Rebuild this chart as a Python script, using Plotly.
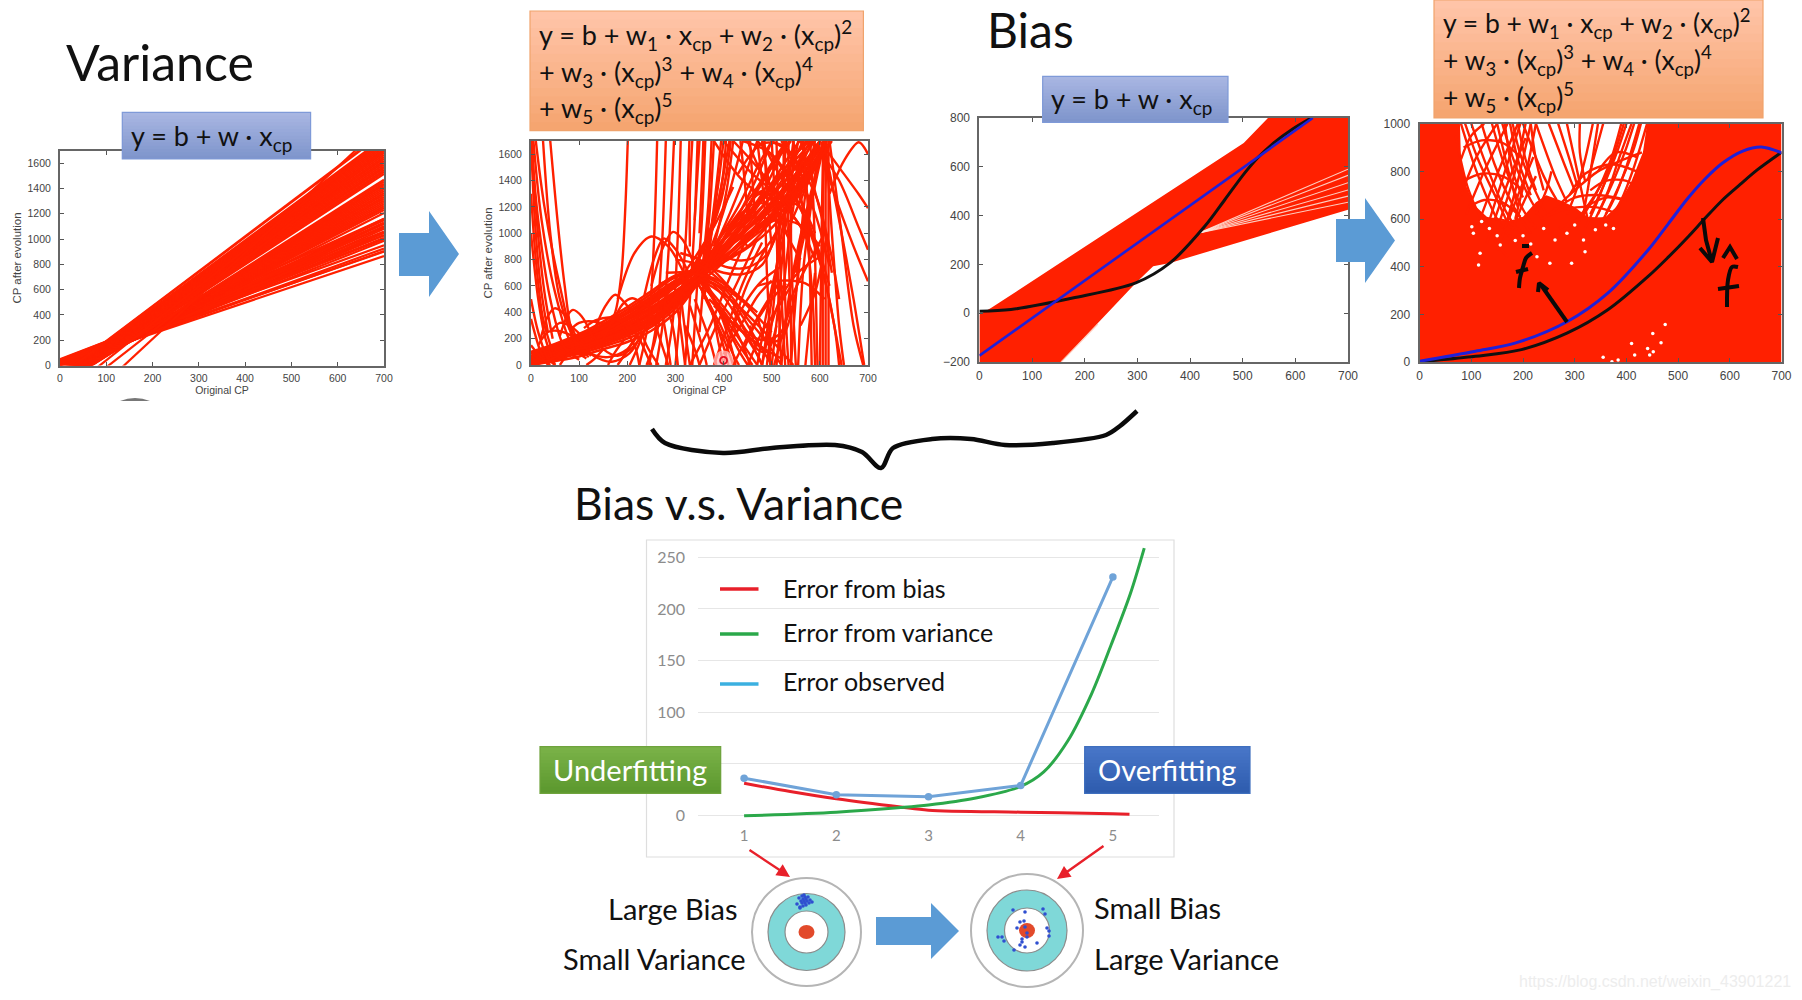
import plotly.graph_objects as go

W, H = 1802, 1000
RED = "#FF2000"
TEXT_FONT = "Lato"
TICK_FONT = "Liberation Sans"

# ---- panel A: straight fits, value at x=0 and at x=700
A_X = [0, 700]
A_Y0 = [7, 2, -5, -25, -32, -40, -45, -55, -61, -68, -75, -80,
        50, 40, 45, 35, 25, 15, 0, 30, 10, 0, -20, -40, 20,
        -92, -97, -101, -105, -109, -113, -116, -120, -124, -127, -130, -134, -138, -142, -147, -152, -155, -159,
        -158, -155, -152, -148, -145, -142, -138, -134, -131, -128, -125, -122, -119, -115, -110, -106, -102, -98, -94, -91,
        -85, -82, -250, -300, -470]
A_Y700 = [865, 905, 925, 985, 1010, 1030, 1050, 1080, 1100, 1120, 1150, 1160,
          1030, 1000, 1060, 1090, 1120, 1150, 1160, 950, 1000, 1050, 1100, 1130, 900,
          1205, 1230, 1245, 1260, 1275, 1290, 1305, 1320, 1335, 1350, 1365, 1380, 1395, 1410, 1425, 1440, 1455, 1470,
          1515, 1530, 1545, 1560, 1575, 1590, 1605, 1620, 1635, 1650, 1665, 1680, 1695, 1710, 1725, 1740, 1755, 1770, 1785, 1800,
          1840, 1848, 1790, 1700, 1910]

# ---- panel B: degree 5 fits
B_BAND_X = [0, 50, 100, 150, 200, 250, 300, 350, 400, 450, 500, 550, 600]
B_BAND_Y = [
    [0, 60, 140, 210, 290, 390, 510, 660, 820, 960, 1120, 1350, 1650],
    [10, 80, 150, 230, 320, 430, 560, 700, 860, 1030, 1230, 1450, 1700],
    [20, 90, 170, 250, 340, 440, 560, 680, 780, 890, 1040, 1260, 1600],
    [30, 100, 180, 260, 350, 460, 600, 750, 910, 1090, 1280, 1500, 1760],
    [40, 110, 190, 270, 370, 490, 620, 760, 900, 1040, 1200, 1420, 1680],
    [50, 130, 210, 290, 390, 500, 630, 770, 960, 1150, 1360, 1600, 1800],
    [0, 50, 120, 190, 270, 360, 480, 640, 840, 1040, 1240, 1450, 1650],
    [15, 70, 130, 200, 280, 380, 500, 660, 880, 1120, 1340, 1560, 1750],
    [35, 85, 145, 215, 300, 400, 530, 690, 880, 1100, 1380, 1660, 1900],
    [60, 120, 195, 280, 370, 470, 590, 730, 870, 1000, 1140, 1330, 1620],
    [5, 40, 100, 170, 260, 350, 470, 620, 780, 940, 1090, 1290, 1600],
    [25, 120, 200, 300, 400, 520, 640, 720, 800, 900, 1100, 1400, 1700],
]
B_LOW_X = [0, 50, 100, 150, 200, 250, 300, 350]
B_LOW_Y = [
    [0, 30, 65, 120, 175, 260, 400, 640],
    [5, 45, 85, 140, 200, 290, 430, 650],
    [10, 55, 100, 155, 220, 310, 450, 660],
    [20, 65, 110, 170, 235, 325, 470, 670],
    [30, 75, 120, 180, 250, 340, 480, 680],
    [40, 90, 135, 195, 265, 355, 500, 690],
    [25, 100, 160, 225, 305, 405, 540, 695],
    [45, 115, 175, 240, 325, 420, 545, 700],
    [55, 125, 185, 255, 360, 475, 610, 710],
    [70, 140, 205, 285, 400, 510, 640, 720],
    [85, 150, 220, 310, 420, 540, 670, 730],
    [100, 160, 235, 330, 440, 560, 680, 700],
]
B_CURVES = [
    [(40, 1700), (55, 1100), (70, 600), (85, 250), (110, 60)],
    [(0, 1700), (15, 1100), (40, 500), (70, 130), (100, 40)],
    [(5, 1700), (22, 1100), (50, 550), (85, 150), (115, 50)],
    [(10, 1700), (28, 1200), (60, 600), (90, 180), (120, 60)],
    [(25, 1700), (40, 1000), (60, 500), (90, 200), (125, 70)],
    [(0, 1700), (8, 1100), (20, 600), (35, 250)],
    [(2, 1700), (12, 1100), (28, 550), (45, 200)],
    [(0, 1300), (10, 800), (25, 350), (45, 100)],
    [(0, 500), (15, 250), (35, 50), (50, 0)],
    [(0, 350), (20, 100), (35, 0)],
    [(0, 1000), (15, 500), (30, 200), (50, 0)],
    [(0, 150), (20, 60), (40, 0)],
    [(0, 100), (25, 30), (50, 60)],
    [(201, 1700), (196, 1200), (188, 700), (175, 400), (150, 200)],
    [(180, 500), (215, 850), (250, 975), (285, 900), (320, 680)],
    [(250, 600), (275, 900), (295, 1010), (315, 950), (340, 750)],
    [(235, 520), (255, 800), (276, 960), (300, 880), (330, 680)],
    [(130, 250), (155, 450), (175, 533), (200, 450), (225, 330)],
    [(20, 200), (35, 370), (49, 430), (70, 380), (95, 200)],
    [(60, 220), (75, 370), (87, 418), (105, 370), (130, 200)],
    [(170, 320), (190, 460), (210, 507), (235, 460), (260, 400)],
    [(15, 150), (35, 250), (55, 260), (80, 230), (100, 180)],
    [(40, 250), (60, 320), (80, 300), (100, 240)],
    [(80, 260), (100, 320), (130, 330), (160, 300)],
    [(110, 280), (135, 340), (165, 360), (190, 320)],
    [(100, 180), (130, 70), (168, 25), (205, 90), (230, 240)],
    [(90, 160), (120, 90), (160, 60), (200, 120), (225, 250)],
    [(130, 220), (150, 120), (180, 70), (210, 130), (235, 260)],
    [(60, 0), (80, 90), (110, 130)],
    [(115, 0), (130, 40), (150, 120)],
    [(160, 0), (175, 100), (195, 200)],
    [(180, 0), (200, 110), (220, 230)],
    [(205, 0), (220, 120), (240, 300)],
    [(240, 0), (255, 150), (270, 400)],
    [(200, 330), (225, 200), (240, 80), (250, 0)],
    [(190, 290), (215, 150), (225, 0)],
    [(220, 360), (240, 150), (265, 0)],
    [(250, 400), (265, 230), (280, 60), (285, 0)],
    [(270, 440), (280, 240), (290, 0)],
    [(280, 470), (295, 280), (305, 0)],
    [(300, 520), (310, 300), (320, 0)],
    [(310, 560), (320, 260), (330, 0)],
    [(225, 0), (245, 350), (255, 900), (262, 1700)],
    [(245, 0), (260, 300), (272, 900), (280, 1700)],
    [(260, 0), (275, 350), (288, 1000), (297, 1700)],
    [(280, 0), (295, 350), (304, 900), (311, 1700)],
    [(300, 0), (310, 400), (322, 1000), (329, 1700)],
    [(320, 0), (330, 500), (340, 1100), (346, 1700)],
    [(335, 0), (345, 600), (355, 1100), (362, 1700)],
    [(350, 250), (362, 800), (372, 1200), (380, 1700)],
    [(360, 500), (375, 1000), (390, 1400), (400, 1700)],
    [(300, 480), (340, 660), (380, 500), (420, 220), (460, 0)],
    [(310, 520), (345, 680), (385, 450), (430, 120), (450, 0)],
    [(320, 600), (350, 680), (390, 420), (415, 150), (425, 0)],
    [(300, 500), (335, 650), (365, 500), (395, 200), (410, 0)],
    [(320, 560), (345, 640), (375, 520), (410, 320), (470, 0)],
    [(290, 470), (335, 640), (372, 450), (390, 160), (400, 0)],
    [(330, 620), (360, 660), (400, 520), (450, 220), (480, 0)],
    [(335, 640), (380, 620), (430, 420), (470, 180), (500, 0)],
    [(340, 650), (400, 580), (450, 350), (490, 170), (520, 0)],
    [(348, 660), (375, 1000), (395, 1350), (412, 1700)],
    [(348, 660), (385, 1000), (415, 1350), (440, 1700)],
    [(348, 660), (395, 1000), (435, 1350), (470, 1700)],
    [(348, 660), (410, 1000), (460, 1350), (500, 1700)],
    [(348, 660), (420, 1000), (480, 1300), (530, 1700)],
    [(348, 660), (440, 1000), (520, 1300), (600, 1700)],
    [(340, 620), (450, 980), (540, 1270), (615, 1680)],
    [(430, 1450), (480, 1680), (530, 1650), (570, 1350)],
    [(500, 1700), (540, 1600), (590, 1300), (620, 900), (640, 500)],
    [(440, 1700), (500, 1600), (560, 1250), (600, 800), (630, 300), (640, 0)],
    [(470, 1700), (520, 1500), (570, 1100), (610, 650), (640, 100), (645, 0)],
    [(500, 1700), (510, 1000), (515, 400), (520, 0)],
    [(510, 1700), (515, 1000), (522, 400), (528, 0)],
    [(525, 1700), (525, 1000), (530, 300), (535, 0)],
    [(535, 1700), (535, 900), (540, 300), (540, 0)],
    [(545, 1700), (540, 1000), (545, 400), (550, 0)],
    [(490, 0), (505, 500), (520, 1200), (530, 1700)],
    [(500, 0), (515, 500), (530, 1200), (545, 1700)],
    [(480, 0), (500, 500), (525, 1100), (555, 1700)],
    [(470, 0), (495, 500), (520, 900), (560, 1600)],
    [(510, 0), (525, 600), (545, 1200), (570, 1700)],
    [(540, 0), (552, 600), (570, 1300), (590, 1700)],
    [(555, 0), (565, 700), (585, 1300), (600, 1700)],
    [(520, 0), (535, 500), (555, 900), (605, 1650)],
    [(600, 0), (603, 800), (605, 1300), (607, 1700)],
    [(606, 0), (606, 800), (607, 1300), (610, 1700)],
    [(612, 0), (612, 800), (612, 1300), (614, 1700)],
    [(618, 0), (618, 800), (618, 1300), (618, 1700)],
    [(612, 1700), (625, 1000), (640, 300), (650, 0)],
    [(620, 1700), (645, 1000), (670, 300), (690, 0)],
    [(610, 1650), (640, 1100), (670, 500), (692, 0)],
    [(600, 1700), (640, 1500), (680, 1300), (700, 1190)],
    [(590, 1680), (640, 1400), (680, 1050), (700, 875)],
    [(600, 1650), (630, 1300), (670, 900), (700, 635)],
    [(620, 1300), (650, 1550), (681, 1690), (700, 1600)],
    [(540, 600), (565, 1000), (590, 1400), (605, 1690)],
    [(550, 700), (575, 1100), (595, 1450), (610, 1700)],
    [(530, 1000), (560, 1250), (590, 1500), (625, 1700)],
    [(360, 760), (400, 700), (440, 690), (480, 760), (510, 1000), (530, 1200)],
    [(370, 800), (410, 740), (450, 740), (490, 840), (520, 1100)],
    [(380, 880), (420, 800), (460, 810), (500, 950), (530, 1200)],
    [(420, 450), (450, 250), (480, 190), (515, 230), (540, 450)],
    [(440, 1000), (460, 1250), (480, 1320), (500, 1270), (520, 1100)],
    [(430, 1050), (450, 1200), (470, 1290), (490, 1310), (515, 1200)],
    [(470, 380), (490, 180), (520, 200), (550, 550), (560, 900)],
    [(455, 300), (470, 120), (490, 100), (510, 300)],
    [(380, 450), (420, 310), (460, 190), (490, 110), (520, 50)],
    [(370, 500), (410, 350), (450, 220), (480, 120)],
    [(350, 650), (430, 900), (500, 1150), (560, 1450), (600, 1700)],
    [(330, 600), (420, 880), (490, 1100), (550, 1350), (590, 1620)],
    [(350, 700), (440, 1000), (510, 1200), (560, 1300), (610, 1680)],
    [(340, 680), (400, 950), (480, 1250), (530, 1400), (580, 1700)],
    [(380, 1700), (440, 1400), (500, 1250), (540, 1200)],
    [(400, 1700), (460, 1450), (510, 1300), (545, 1180)],
    [(420, 1700), (470, 1500), (525, 1230), (570, 1000)],
    [(450, 1200), (490, 1450), (540, 1700)],
    [(460, 1150), (510, 1400), (555, 1620), (580, 1700)],
    [(410, 1050), (470, 1350), (520, 1640), (540, 1700)],
    [(348, 660), (420, 480), (480, 270), (530, 60), (545, 0)],
    [(348, 640), (410, 360), (440, 150), (455, 0)],
    [(360, 620), (430, 300), (470, 80), (480, 0)],
    [(350, 600), (395, 290), (420, 80), (432, 0)],
    [(355, 560), (400, 200), (420, 0)],
    [(340, 500), (370, 200), (385, 0)],
    [(330, 450), (355, 150), (365, 0)],
    [(320, 300), (340, 120), (350, 0)],
    [(480, 0), (495, 250), (520, 520), (560, 720), (600, 820)],
    [(505, 0), (520, 200), (540, 500), (580, 800), (610, 1000)],
    [(340, 1100), (345, 1400), (350, 1700)],
    [(350, 1000), (355, 1400), (358, 1700)],
    [(335, 1700), (330, 1300), (330, 900)],
    [(395, 1700), (380, 1200), (365, 800)],
    [(375, 1700), (368, 1200), (358, 800)],
    [(420, 1700), (405, 1300), (380, 900)],
    [(380, 900), (430, 1200), (470, 1500), (500, 1700)],
    [(370, 800), (440, 1150), (500, 1500), (530, 1700)],
    [(390, 820), (470, 1150), (530, 1450), (565, 1700)],
    [(420, 880), (490, 1150), (550, 1450), (585, 1700)],
    [(450, 1700), (480, 1450), (520, 1250), (560, 1050), (590, 800)],
    [(480, 1700), (510, 1480), (550, 1250), (590, 950), (620, 600)],
    [(520, 1700), (555, 1450), (590, 1150), (620, 750)],
    [(560, 1700), (580, 1450), (605, 1100), (625, 700)],
    [(545, 1700), (560, 1300), (575, 900), (585, 500), (590, 0)],
    [(565, 1700), (575, 1200), (580, 600), (583, 0)],
    [(580, 1700), (588, 1100), (592, 500), (595, 0)],
    [(470, 1700), (485, 1200), (490, 700), (495, 300), (497, 0)],
    [(455, 1700), (462, 1300), (470, 1000)],
    [(485, 1700), (490, 1300), (500, 900)],
    [(435, 1700), (445, 1350), (450, 1100)],
    [(420, 300), (450, 500), (480, 640), (520, 750)],
    [(440, 100), (470, 340), (500, 500), (530, 620)],
    [(400, 80), (440, 330), (470, 520), (500, 640)],
    [(450, 0), (480, 250), (510, 420), (540, 600)],
    [(420, 0), (445, 180), (480, 420), (520, 650)],
    [(560, 300), (590, 550), (610, 900)],
    [(570, 0), (578, 300), (590, 700)],
    [(230, 300), (280, 520), (330, 760), (380, 1050), (420, 1350)],
    [(240, 280), (300, 520), (345, 800), (385, 1150), (410, 1500)],
    [(250, 300), (310, 560), (355, 850), (395, 1250), (415, 1700)],
    [(260, 330), (320, 620), (360, 900), (395, 1350), (405, 1700)],
    [(280, 700), (330, 700), (380, 640), (440, 480)],
    [(270, 620), (330, 690), (390, 640), (460, 420)],
    [(300, 800), (350, 760), (400, 620), (470, 400)],
    [(310, 850), (360, 780), (420, 560), (500, 250)],
    [(360, 700), (390, 900), (420, 1000), (450, 900)],
    [(360, 720), (400, 1000), (440, 1130), (480, 1100)],
    [(370, 740), (420, 1080), (470, 1230), (510, 1180)],
    [(400, 0), (420, 300), (450, 620), (490, 900)],
    [(380, 0), (405, 260), (440, 620), (480, 930)],
    [(350, 0), (385, 300), (430, 640), (470, 960)],
    [(330, 0), (370, 280), (410, 640), (450, 980)],
    [(480, 1700), (500, 1300), (530, 1000), (560, 800)],
    [(495, 1200), (530, 1250), (565, 1180), (590, 1000)],
    [(460, 1000), (510, 1100), (560, 1060), (600, 900)],
    [(470, 600), (520, 640), (570, 620), (610, 500)],
]
B_CURSOR_X = [400]
B_CURSOR_Y = [35]

# ---- panel C: the mass of straight fits, its outline
C_MASS_X = [0, 155, 297, 330, 362, 700, 700, 548, 502, 22, 0]
C_MASS_Y = [-200, -200, 124, 192, 206, 424, 800, 800, 698, 21, -5]
C_SLIT_START = [417, 329]
C_SLIT_END = [590, 565, 535, 505, 480, 455]
C_BLUE_X = [0, 633]
C_BLUE_Y = [-174, 800]
C_BLACK_X = [0, 60, 177, 297, 362, 428, 466, 504, 530, 559, 595, 630]
C_BLACK_Y = [8, 15, 62, 124, 206, 356, 465, 575, 640, 698, 755, 800]

# ---- panel D: nearly solid red, holes and the curves that cross them
D_BACK_X = [0, 700, 700, 0]
D_BACK_Y = [0, 0, 1000, 1000]
D_HOLE_X = [78, 440, 432, 410, 385, 360, 330, 300, 270, 245, 225, 200, 170, 130, 105, 90, 80]
D_HOLE_Y = [1000, 1000, 880, 760, 660, 610, 600, 650, 680, 700, 670, 610, 590, 610, 660, 740, 850]
D_CURVES = [
    [(80, 1000), (110, 800), (150, 600), (190, 480)],
    [(100, 1000), (130, 820), (165, 640), (205, 500)],
    [(120, 1000), (145, 830), (180, 660), (215, 540)],
    [(140, 1000), (165, 820), (200, 640), (225, 560)],
    [(160, 1000), (180, 860), (210, 700), (240, 590)],
    [(180, 1000), (195, 870), (215, 760), (245, 620)],
    [(70, 950), (95, 720), (130, 560), (170, 440)],
    [(88, 1000), (115, 840), (150, 680), (175, 560)],
    [(80, 850), (100, 950), (125, 1000)],
    [(80, 700), (110, 860), (150, 1000)],
    [(90, 620), (125, 800), (170, 1000)],
    [(110, 560), (145, 760), (190, 1000)],
    [(130, 500), (165, 720), (205, 940)],
    [(150, 470), (185, 670), (220, 860)],
    [(170, 500), (195, 640), (225, 780)],
    [(85, 900), (120, 930), (160, 920), (195, 860)],
    [(85, 760), (120, 790), (160, 780), (200, 720)],
    [(95, 650), (125, 680), (160, 670), (195, 610)],
    [(110, 580), (140, 600), (170, 590), (200, 540)],
    [(165, 1000), (180, 800), (200, 690)],
    [(175, 1000), (190, 850), (215, 700)],
    [(150, 1000), (172, 800), (190, 650)],
    [(190, 1000), (205, 850), (225, 720)],
    [(215, 1000), (225, 850), (240, 720)],
    [(150, 560), (180, 760), (205, 1000)],
    [(165, 560), (190, 760), (215, 1000)],
    [(185, 600), (205, 780), (225, 1000)],
    [(130, 560), (165, 800), (195, 1000)],
    [(200, 1000), (240, 780), (265, 680)],
    [(225, 1000), (262, 780), (285, 670)],
    [(250, 1000), (280, 830), (300, 720)],
    [(268, 1000), (290, 850), (305, 740)],
    [(285, 1000), (300, 850), (315, 700), (325, 600)],
    [(335, 1000), (320, 850), (300, 700), (285, 620)],
    [(440, 1000), (415, 820), (390, 680), (365, 590)],
    [(425, 1000), (400, 820), (375, 680), (350, 580)],
    [(410, 1000), (385, 850), (365, 720), (340, 600)],
    [(395, 1000), (375, 860), (345, 680), (320, 560)],
    [(345, 1000), (335, 860), (325, 720), (315, 600)],
    [(300, 560), (340, 700), (370, 850), (390, 1000)],
    [(280, 540), (320, 640), (350, 740), (375, 850)],
    [(260, 640), (300, 720), (345, 800), (395, 850), (430, 880)],
    [(250, 620), (300, 690), (350, 700), (400, 680)],
    [(235, 600), (280, 640), (340, 650), (385, 620)],
    [(290, 700), (320, 790), (370, 830), (420, 800)],
    [(270, 560), (310, 600), (355, 600), (375, 590)],
    [(225, 620), (245, 720), (255, 800)],
    [(330, 620), (360, 760), (385, 900), (400, 1000)],
    [(345, 620), (375, 760), (400, 900), (415, 1000)],
    [(360, 620), (390, 760), (415, 900), (428, 1000)],
    [(330, 720), (360, 760), (400, 760), (425, 720)],
    [(320, 650), (360, 690), (395, 680)],
    [(345, 800), (380, 880), (420, 860)],
    [(355, 1000), (340, 880), (325, 760)],
    [(310, 1000), (310, 880), (320, 760)],
]
D_SPECK_X = [355, 384, 372, 410, 416, 441, 452, 445, 451, 467, 475,
             317, 262, 156, 104, 101, 117, 114, 227, 252, 294, 320, 285,
             120, 135, 150, 185, 200, 215, 240, 340, 360, 375, 300]
D_SPECK_Y = [20, 8, 1, 78, 29, 57, 43, 29, 120, 81, 157,
             512, 512, 491, 540, 568, 456, 407, 442, 414, 414, 463, 540,
             590, 560, 530, 510, 530, 495, 560, 555, 575, 560, 575]
D_BLUE_X = [0, 108, 186, 286, 364, 442, 481, 520, 553, 586, 625, 661, 700]
D_BLUE_Y = [3, 45, 80, 170, 289, 470, 580, 690, 770, 835, 885, 902, 878]
D_BLACK_X = [0, 108, 197, 286, 364, 442, 481, 520, 553, 586, 620, 653, 700]
D_BLACK_Y = [1, 24, 52, 122, 219, 359, 440, 527, 605, 680, 745, 806, 880]

# ---- error curves
E_TICKS_X = [1, 2, 3, 4, 5]
E_TICKS_Y = [0, 50, 100, 150, 200, 250]
E_TICKTEXT_Y = ["0", "", "100", "150", "200", "250"]
E_BIAS_X = [1, 1.5, 2, 2.7, 3, 4, 5, 5.18]
E_BIAS_Y = [31, 23, 16, 8, 5, 3, 1.5, 1]
E_VAR_X = [1, 2, 2.7, 3, 3.5, 4, 4.25, 4.51, 4.77, 4.98, 5.19, 5.34]
E_VAR_Y = [-0.5, 3, 7.5, 10, 16.5, 28, 42, 72, 118, 165, 215, 259]
E_OBS_X = [1, 2, 3, 4, 5]
E_OBS_Y = [36, 20, 18, 29, 231]

# ---- blue hits on the two targets, canvas pixels
HITS_L_X = [797, 799, 800, 801, 802, 802, 803, 803, 804, 804, 805, 805, 806, 806, 807, 808, 809, 810, 812, 800]
HITS_L_Y = [904, 898, 907, 901, 896, 903, 899, 906, 895, 901, 897, 903, 899, 905, 901, 897, 903, 900, 902, 908]
HITS_R_X = [1013, 1025, 1043, 1045, 1020, 1024, 1017, 1047, 1049, 1049, 1002, 998, 1004, 1022, 1027, 1020, 1022, 1037, 1025, 1014, 1025, 1027]
HITS_R_Y = [910, 912, 909, 914, 922, 921, 928, 928, 931, 936, 937, 937, 941, 939, 937, 945, 942, 943, 947, 950, 927, 933]

# ---- marks drawn by hand with a pen, canvas pixels
BRACE_X = [652, 665, 723, 772, 835, 862, 881, 893, 932, 971, 1005, 1053, 1106, 1120, 1137]
BRACE_Y = [429, 443, 453, 448, 445, 452, 468, 448, 439, 439, 445, 443, 435, 426, 411]
PEN_STROKES = [
    ([1567, 1541], [322, 285]),
    ([1538, 1539, 1548], [292, 283, 290]),
    ([1532, 1526, 1523, 1520, 1519], [253, 258, 267, 278, 288]),
    ([1516, 1528], [272, 269]),
    ([1522, 1529], [246, 246]),
    ([1703, 1706, 1712], [218, 240, 262]),
    ([1700, 1712, 1718], [248, 262, 238]),
    ([1723, 1730, 1737], [258, 247, 259]),
    ([1738, 1732, 1728, 1727], [267, 267, 280, 307]),
    ([1718, 1739], [289, 286]),
]

TITLES = [("Variance", 64, 62, 50), ("Bias", 985, 29, 48), ("Bias v.s. Variance", 572, 502, 44.5)]
SIDE_LABELS = [("Large Bias", 606, 908), ("Small Variance", 561, 958), ("Small Bias", 1092, 907), ("Large Variance", 1092, 958)]
LEGEND_LABELS = ["Error from bias", "Error from variance", "Error observed"]
LEGEND_COLORS = ["#E8202A", "#2BA84A", "#3BB0E0"]
LEGEND_Y = [589, 634, 684]
LEGEND_TEXT_Y = [588, 632, 681]

SIMPLE = "y = b + w · x<sub>cp</sub>"
POLY = ["y = b + w<sub>1</sub> · x<sub>cp</sub> + w<sub>2</sub> · (x<sub>cp</sub>)<sup>2</sup>",
        "+ w<sub>3</sub> · (x<sub>cp</sub>)<sup>3</sup> + w<sub>4</sub> · (x<sub>cp</sub>)<sup>4</sup>",
        "+ w<sub>5</sub> · (x<sub>cp</sub>)<sup>5</sup>"]

#============#

fig = go.Figure()
shapes, notes = [], []


def domain_x(x0, x1):
    return [x0 / W, x1 / W]


def domain_y(y0, y1):
    return [1 - y1 / H, 1 - y0 / H]


def line(ax, xs, ys, color=RED, width=2.0, spline=False):
    mode = dict(color=color, width=width)
    if spline:
        mode.update(shape="spline", smoothing=0.9)
    fig.add_trace(go.Scatter(x=xs, y=ys, mode="lines", line=mode, xaxis="x" + ax, yaxis="y" + ax))


def polygon(ax, xs, ys, color):
    fig.add_trace(go.Scatter(x=xs, y=ys, mode="lines", fill="toself", fillcolor=color,
                             line=dict(color=color, width=0), xaxis="x" + ax, yaxis="y" + ax))


def panel(x0, x1, y0, y1, yrange, size, xtitle=None, ytitle=None):
    tick = dict(family=TICK_FONT, size=size, color="#444444")
    xa = dict(domain=domain_x(x0, x1), range=[0, 700], dtick=100, ticks="inside", ticklen=4, tickcolor="#555555",
              mirror="ticks", showline=True, linecolor="#666666", linewidth=2, showgrid=False, zeroline=False,
              tickfont=tick, ticklabelstandoff=2)
    ya = dict(domain=domain_y(y0, y1), range=yrange, dtick=200, ticks="inside", ticklen=4, tickcolor="#555555",
              mirror="ticks", showline=True, linecolor="#666666", linewidth=2, showgrid=False, zeroline=False,
              tickfont=tick, ticklabelstandoff=5)
    if xtitle:
        xa["title"] = dict(text=xtitle, font=dict(family=TICK_FONT, size=10.5, color="#444444"), standoff=3)
    if ytitle:
        ya["title"] = dict(text=ytitle, font=dict(family=TICK_FONT, size=11.5, color="#444444"), standoff=4)
    return xa, ya


def gradient_box(x0, y0, x1, y1, top, bottom, border, bands=14):
    for i in range(bands):
        t = i / (bands - 1)
        rgb = [round(a + (b - a) * t) for a, b in zip(top, bottom)]
        shapes.append(dict(type="rect", xref="x6", yref="y6", x0=x0, x1=x1, y0=y0 + (y1 - y0) * i / bands, y1=y1,
                           fillcolor="rgb(%d,%d,%d)" % tuple(rgb), line=dict(width=0), layer="above"))
    shapes.append(dict(type="rect", xref="x6", yref="y6", x0=x0, x1=x1, y0=y0, y1=y1,
                       line=dict(color=border, width=1.2), layer="above"))


def block_arrow(x0, xh, x1, top, btop, bbot, bottom):
    path = "M %g %g L %g %g L %g %g L %g %g L %g %g L %g %g L %g %g Z" % (
        x0, btop, xh, btop, xh, top, x1, (top + bottom) / 2, xh, bottom, xh, bbot, x0, bbot)
    shapes.append(dict(type="path", xref="x6", yref="y6", path=path, fillcolor="#5B9BD5",
                       line=dict(width=0), layer="above"))


def text(s, x, y, size, color="#111111", anchor="left", family=TEXT_FONT):
    notes.append(dict(text=s, x=x, y=y, xref="x6", yref="y6", showarrow=False, xanchor=anchor, yanchor="middle",
                      align="left", font=dict(family=family, size=size, color=color)))


def target(cx, cy, rx, ry, tx, ty, wx, wy, dx, dy):
    rings = [(rx, ry, "white", "#B5B5B5", 2), (tx, ty, "#7FD8D8", "#8C8C8C", 1.2),
             (wx, wy, "white", "#8C8C8C", 1.2), (dx, dy, "#E24A2B", "#E24A2B", 0)]
    for a, b, fill, edge, w in rings:
        shapes.append(dict(type="circle", xref="x6", yref="y6", x0=cx - a, x1=cx + a, y0=cy - b, y1=cy + b,
                           fillcolor=fill, line=dict(color=edge, width=w), layer="below"))


# panel A
xa1, ya1 = panel(60, 384, 150.5, 365.5, [0, 1700], 10.5, "Original CP", "CP after evolution")
for b, e in zip(A_Y0, A_Y700):
    line("1", A_X, [b, e], width=2.2)

# panel B
xa2, ya2 = panel(531, 868, 141, 365, [0, 1700], 10.5, "Original CP", "CP after evolution")
for ys in B_BAND_Y:
    line("2", B_BAND_X, ys, width=2.5, spline=True)
for ys in B_LOW_Y:
    line("2", B_LOW_X, ys, width=2.6, spline=True)
for c in B_CURVES:
    xs, ys = zip(*c)
    line("2", list(xs), list(ys), width=2.4, spline=True)
fig.add_trace(go.Scatter(x=B_CURSOR_X, y=B_CURSOR_Y, mode="markers", xaxis="x2", yaxis="y2",
                         marker=dict(size=20, color="rgba(255,190,190,0.75)")))
fig.add_trace(go.Scatter(x=B_CURSOR_X, y=B_CURSOR_Y, mode="markers", xaxis="x2", yaxis="y2",
                         marker=dict(size=7, color="rgba(0,0,0,0)", line=dict(color="#E81020", width=1.8))))

# panel C
xa3, ya3 = panel(979.4, 1348, 118, 362, [-200, 800], 12)
polygon("3", C_MASS_X, C_MASS_Y, RED)
for e in C_SLIT_END:
    line("3", [C_SLIT_START[0], 700], [C_SLIT_START[1], e], color="rgba(255,235,225,0.85)", width=1.1)
line("3", [155, 225], [-200, -45], color="rgba(255,190,170,0.8)", width=1.2)
line("3", C_BLACK_X, C_BLACK_Y, color="#111111", width=3, spline=True)
line("3", C_BLUE_X, C_BLUE_Y, color="#2020D8", width=2.6)

# panel D
xa4, ya4 = panel(1419.6, 1781.5, 123.7, 362, [0, 1000], 12)
polygon("4", D_BACK_X, D_BACK_Y, RED)
polygon("4", D_HOLE_X, D_HOLE_Y, "white")
for c in D_CURVES:
    xs, ys = zip(*c)
    line("4", list(xs), list(ys), width=2.4, spline=True)
fig.add_trace(go.Scatter(x=D_SPECK_X, y=D_SPECK_Y, mode="markers", xaxis="x4", yaxis="y4",
                         marker=dict(size=3.5, color="white", line=dict(width=0))))
line("4", D_BLACK_X, D_BLACK_Y, color="#111111", width=3, spline=True)
line("4", D_BLUE_X, D_BLUE_Y, color="#2020D8", width=3, spline=True)

# error chart
xa5 = dict(domain=domain_x(698, 1159), range=[0.5, 5.5], tickvals=E_TICKS_X, showgrid=False, zeroline=False,
           showline=False, ticks="", tickfont=dict(family=TEXT_FONT, size=15, color="#8C8C8C"))
ya5 = dict(domain=domain_y(540, 825), range=[-9.4, 266.8], tickvals=E_TICKS_Y, ticktext=E_TICKTEXT_Y, showgrid=True,
           gridcolor="#E6E6E6", gridwidth=1.4, zeroline=False, showline=False, ticks="",
           tickfont=dict(family=TEXT_FONT, size=16, color="#8C8C8C"), ticklabelstandoff=12)
line("5", E_BIAS_X, E_BIAS_Y, color="#E8202A", width=3, spline=True)
line("5", E_VAR_X, E_VAR_Y, color="#2BA84A", width=3, spline=True)
fig.add_trace(go.Scatter(x=E_OBS_X, y=E_OBS_Y, mode="lines+markers", xaxis="x5", yaxis="y5",
                         line=dict(color="#6FA3D8", width=3), marker=dict(size=7.5, color="#6FA3D8")))

# full canvas in pixels, carries everything that is not a plot
xa6 = dict(domain=[0, 1], range=[0, W], visible=False, fixedrange=True)
ya6 = dict(domain=[0, 1], range=[H, 0], visible=False, fixedrange=True)
line("6", BRACE_X, BRACE_Y, color="#0A0A0A", width=4.5, spline=True)
for xs, ys in PEN_STROKES:
    line("6", xs, ys, color="#0A0A0A", width=4, spline=len(xs) > 3)
for xs, ys in [(HITS_L_X, HITS_L_Y), (HITS_R_X, HITS_R_Y)]:
    fig.add_trace(go.Scatter(x=xs, y=ys, mode="markers", xaxis="x6", yaxis="y6",
                             marker=dict(size=3.6, color="#2F4FD0", line=dict(width=0))))

# slide furniture
shapes.append(dict(type="rect", xref="x6", yref="y6", x0=646.5, x1=1174, y0=540, y1=857,
                   line=dict(color="#DEDEDE", width=1.2), layer="below"))
for i, c in enumerate(LEGEND_COLORS):
    shapes.append(dict(type="line", xref="x6", yref="y6", x0=720, x1=758.5, y0=LEGEND_Y[i], y1=LEGEND_Y[i],
                       line=dict(color=c, width=3.4), layer="above"))
    text(LEGEND_LABELS[i], 781, LEGEND_TEXT_Y[i], 25)
shapes.append(dict(type="path", xref="x6", yref="y6", path="M 120 401 Q 135 395 150 401 Z",
                   fillcolor="#777777", line=dict(width=0), layer="above"))

gradient_box(122.3, 112.3, 310.6, 159, (168, 182, 226), (127, 149, 204), "#7F9AD8")
gradient_box(530, 11, 863.4, 130.7, (255, 196, 168), (245, 165, 112), "#F0A36C")
gradient_box(1042.7, 76.3, 1228, 122.3, (168, 182, 226), (127, 149, 204), "#7F9AD8")
gradient_box(1434, 0, 1763, 118, (255, 196, 168), (245, 165, 112), "#F0A36C")
gradient_box(540, 746.7, 720.7, 793.3, (122, 178, 72), (92, 152, 46), "#6FA33D")
gradient_box(1084.7, 746.7, 1250, 793.3, (72, 118, 200), (46, 92, 174), "#3F6FBE")

block_arrow(399, 429, 459, 211, 233, 276, 297)
block_arrow(1336, 1365, 1395, 198, 219, 262, 283)
block_arrow(876, 931, 959, 903, 917, 945, 959)

target(806.5, 932, 54.5, 54, 38.5, 38.5, 21.5, 21, 8, 7)
target(1027, 930.5, 56, 56.5, 40, 40.5, 22.5, 22.5, 8, 7.5)

text(SIMPLE, 129, 137, 27)
text(SIMPLE, 1049, 100, 27)
for i, s in enumerate(POLY):
    text(s, 537, [35, 72, 108][i], 27)
    text(s, 1441, [23, 60, 97][i], 26.5)
for s, x, y, size in TITLES:
    text(s, x, y, size)
for s, x, y in SIDE_LABELS:
    text(s, x, y, 29)
text("Underfitting", 630, 769, 29, color="white", anchor="center")
text("Overfitting", 1167, 769, 29, color="white", anchor="center")
text("https://blog.csdn.net/weixin_43901221", 1793, 982, 16, color="#EDEDED", anchor="right", family="Liberation Sans")

for x0, y0, x1, y1 in [(748, 849, 790, 877), (1105, 845, 1057, 879)]:
    notes.append(dict(x=x1, y=y1, ax=x0, ay=y0, xref="x6", yref="y6", axref="x6", ayref="y6", text="", showarrow=True,
                      arrowhead=2, arrowsize=1.1, arrowwidth=2.4, arrowcolor="#E8202A"))

fig.update_layout(
    template="none", width=W, height=H, margin=dict(l=0, r=0, t=0, b=0), showlegend=False, hovermode=False,
    paper_bgcolor="white", plot_bgcolor="rgba(0,0,0,0)",
    xaxis=xa1, yaxis=dict(ya1, anchor="x"),
    xaxis2=dict(xa2, anchor="y2"), yaxis2=dict(ya2, anchor="x2"),
    xaxis3=dict(xa3, anchor="y3"), yaxis3=dict(ya3, anchor="x3"),
    xaxis4=dict(xa4, anchor="y4"), yaxis4=dict(ya4, anchor="x4"),
    xaxis5=dict(xa5, anchor="y5"), yaxis5=dict(ya5, anchor="x5"),
    xaxis6=dict(xa6, anchor="y6"), yaxis6=dict(ya6, anchor="x6"),
    shapes=shapes, annotations=notes,
)

fig.write_html("out.html", config={"displayModeBar": False},
               post_script="document.body.style.margin='0';document.body.style.overflow='hidden';")
